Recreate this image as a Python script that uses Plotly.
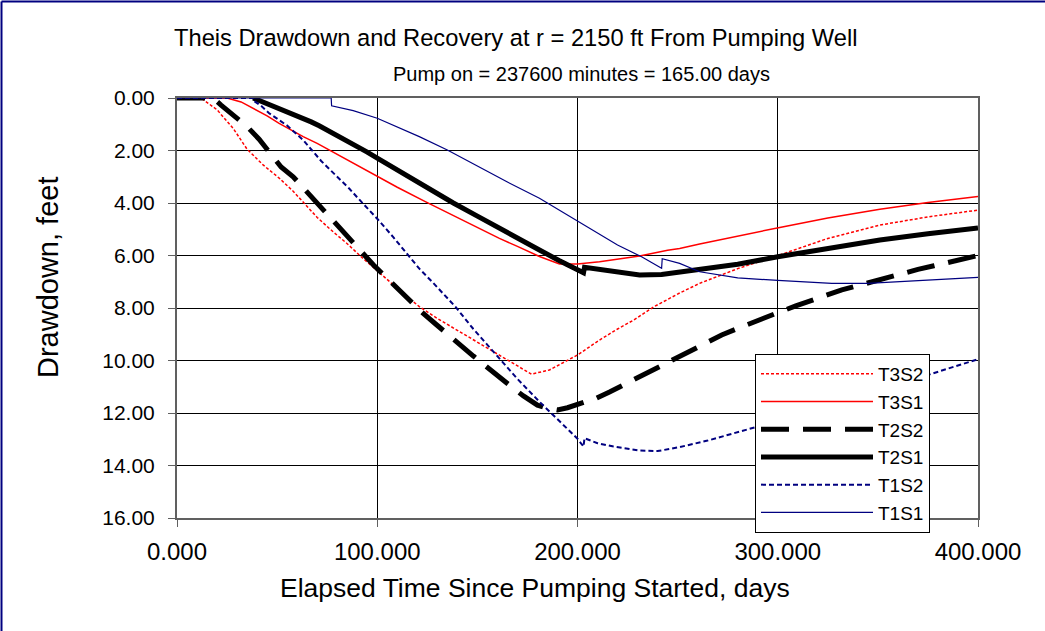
import plotly.graph_objects as go

# ---------------- data (days, drawdown ft) ----------------
t3s2_t = [0, 12, 20, 28, 35, 43, 51, 58, 64, 70, 78, 85, 92, 100, 110, 121, 130, 140, 150, 160, 170, 177,
          186, 192, 200, 211, 220, 228, 238, 251, 261, 280, 301, 325, 351, 375, 400]
t3s2_d = [0, 0, 0.45, 1.15, 1.95, 2.55, 3.05, 3.55, 4.05, 4.55, 5.1, 5.55, 6.05, 6.6, 7.25, 7.95, 8.4, 8.85, 9.3, 9.75, 10.2, 10.52,
          10.36, 10.12, 9.79, 9.22, 8.8, 8.46, 7.96, 7.43, 7.06, 6.5, 5.98, 5.35, 4.84, 4.53, 4.27]

t3s1_t = [0, 25, 32, 38, 45, 51, 57, 63, 70, 76, 88, 100, 110, 124, 140, 150, 161, 170, 181, 191,
          200, 211, 220, 231, 245, 251, 261, 280, 301, 325, 351, 375, 400]
t3s1_d = [0, 0, 0.15, 0.39, 0.68, 0.97, 1.22, 1.47, 1.73, 1.98, 2.5, 2.97, 3.4, 3.95, 4.55, 4.92, 5.35, 5.65, 6.04, 6.32,
          6.32, 6.24, 6.14, 6.02, 5.8, 5.73, 5.56, 5.25, 4.93, 4.57, 4.24, 3.98, 3.75]

t2s2_t = [0, 18, 22, 28, 35, 41, 47, 52, 58, 64, 69, 75, 80, 86, 92, 98, 104, 110, 116, 122, 129, 135, 141, 148, 154,
          160, 167, 173, 180, 185, 190, 195, 201, 209, 216, 223, 230, 237, 244, 251, 258, 265, 272, 280, 287, 295,
          302, 309, 317, 325, 332, 340, 347, 354, 362, 370, 378, 386, 393, 400]
t2s2_d = [0, 0, 0.27, 0.65, 1.09, 1.57, 2.12, 2.63, 3.0, 3.5, 3.95, 4.46, 4.9, 5.38, 5.9, 6.35, 6.8, 7.25, 7.7, 8.14, 8.6, 9.0, 9.41, 9.83, 10.2,
          10.59, 11.0, 11.35, 11.7, 11.82, 11.88, 11.8, 11.63, 11.45, 11.2, 10.93, 10.62, 10.35, 10.08, 9.81, 9.55, 9.28, 9.03, 8.78, 8.56, 8.33,
          8.12, 7.92, 7.7, 7.5, 7.31, 7.15, 7.0, 6.83, 6.68, 6.53, 6.39, 6.24, 6.12, 6.0]

t2s1_t = [38, 42, 46, 50, 55, 59, 63, 67, 71, 75, 80, 85, 90, 95, 100, 110, 121, 130, 138, 150, 160, 170, 181, 191, 201, 203, 203.5,
          211, 220, 231, 242, 251, 261, 280, 300, 325, 351, 375, 400]
t2s1_d = [0.0, 0.12, 0.25, 0.37, 0.5, 0.63, 0.77, 0.91, 1.06, 1.22, 1.41, 1.61, 1.83, 2.06, 2.29, 2.75, 3.22, 3.65, 4.0, 4.5, 4.9, 5.3, 5.79, 6.2, 6.55, 6.66, 6.45,
          6.52, 6.65, 6.74, 6.72, 6.63, 6.55, 6.33, 6.05, 5.72, 5.41, 5.17, 4.95]

t1s2_t = [0, 38, 38.2, 42, 46, 55, 63, 67, 72, 80, 86, 92, 100, 108, 115, 121, 128, 135, 139, 148, 159, 170, 181, 190, 200, 203,
          203.5, 210, 218, 231, 240, 251, 265, 281, 300, 325, 350, 375, 396, 400]
t1s2_d = [0, 0, 0.1, 0.3, 0.58, 1.05, 1.6, 1.95, 2.4, 3.0, 3.45, 3.95, 4.6, 5.3, 5.95, 6.5, 7.05, 7.6, 7.95, 8.8, 9.75, 10.7, 11.57, 12.25, 12.98, 13.28,
          12.96, 13.15, 13.28, 13.43, 13.45, 13.3, 13.05, 12.71, 12.3, 11.72, 11.12, 10.55, 10.04, 9.95]

t1s1_t = [0, 77, 77.2, 88, 100, 110, 121, 135, 150, 165, 181, 195, 208, 220, 232, 242, 242.3,
          251, 261, 280, 300, 327, 345, 361, 380, 400]
t1s1_d = [0, 0, 0.3, 0.48, 0.77, 1.1, 1.47, 1.98, 2.6, 3.2, 3.82, 4.45, 5.03, 5.6, 6.05, 6.49, 6.12,
          6.3, 6.62, 6.85, 6.95, 7.06, 7.06, 7.0, 6.92, 6.83]

x_ticks = [0, 100, 200, 300, 400]
y_ticks = [0, 2, 4, 6, 8, 10, 12, 14, 16]

title_text = "Theis Drawdown and Recovery at r = 2150 ft From Pumping Well"
subtitle_text = "Pump on = 237600 minutes = 165.00 days"
x_title = "Elapsed Time Since Pumping Started, days"
y_title = "Drawdown, feet"

FONT = "Liberation Sans, Arial, sans-serif"

fig = go.Figure()
series = [
    ("T3S2", t3s2_t, t3s2_d, dict(color="#FF0000", width=1.5, dash="3px,2px")),
    ("T3S1", t3s1_t, t3s1_d, dict(color="#FF0000", width=1.5)),
    ("T2S2", t2s2_t, t2s2_d, dict(color="#000000", width=5, dash="28px,14px")),
    ("T2S1", t2s1_t, t2s1_d, dict(color="#000000", width=5)),
    ("T1S2", t1s2_t, t1s2_d, dict(color="#000080", width=2, dash="5px,3px")),
    ("T1S1", t1s1_t, t1s1_d, dict(color="#000080", width=1.2)),
]
for name, xs, ys, ln in series:
    fig.add_trace(go.Scatter(x=xs, y=ys, mode="lines", name=name, line=ln))

W, H = 1045, 631
L, R, T, B = 177, 67, 98, 113
pw, ph = W - L - R, H - T - B

def px(x):
    return (x - L) / pw

def py(y):
    return (H - B - y) / ph

fig.update_layout(
    width=W, height=H,
    margin=dict(l=L, r=R, t=T, b=B, pad=0),
    paper_bgcolor="white", plot_bgcolor="white",
    font=dict(family=FONT, color="black", size=22),
    showlegend=True,
    legend=dict(x=px(755), y=py(354), xanchor="left", yanchor="top",
                bgcolor="white", bordercolor="black", borderwidth=1,
                font=dict(size=19, family=FONT), itemwidth=112,
                tracegroupgap=0),
    xaxis=dict(range=[0, 400], tickvals=x_ticks, tickformat=".3f",
               showgrid=True, gridcolor="black", gridwidth=1,
               showline=True, linecolor="#606060", linewidth=2, mirror=True,
               ticks="outside", ticklen=7, tickcolor="#606060",
               tickfont=dict(size=24, family=FONT), zeroline=False,
               ticklabelstandoff=4),
    yaxis=dict(range=[16, 0], tickvals=y_ticks, tickformat=".2f",
               showgrid=True, gridcolor="black", gridwidth=1,
               showline=True, linecolor="#606060", linewidth=2, mirror=True,
               ticks="outside", ticklen=7, tickcolor="#606060",
               tickfont=dict(size=21, family=FONT), zeroline=False,
               ticklabelstandoff=9),
    annotations=[
        dict(text=title_text, x=px(516), y=py(38), xref="paper", yref="paper",
             showarrow=False, font=dict(size=23.7, family=FONT), xanchor="center", yanchor="middle"),
        dict(text=subtitle_text, x=px(581), y=py(74), xref="paper", yref="paper",
             showarrow=False, font=dict(size=20, family=FONT), xanchor="center", yanchor="middle"),
        dict(text=x_title, x=px(535), y=py(588), xref="paper", yref="paper",
             showarrow=False, font=dict(size=26.5, family=FONT), xanchor="center", yanchor="middle"),
        dict(text=y_title, x=px(48), y=py(277), xref="paper", yref="paper", textangle=-90,
             showarrow=False, font=dict(size=29, family=FONT), xanchor="center", yanchor="middle"),
    ],
    shapes=[
        dict(type="line", xref="paper", yref="paper", x0=px(1.5), x1=px(1.5), y0=py(700), y1=py(1.5),
             line=dict(color="#000080", width=2)),
        dict(type="line", xref="paper", yref="paper", x0=px(1.5), x1=px(1100), y0=py(1.5), y1=py(1.5),
             line=dict(color="#000080", width=2)),
    ],
)

fig.write_html("out.html", config={"displayModeBar": False},
               post_script="document.body.style.margin='0px';document.body.style.overflow='hidden';")
